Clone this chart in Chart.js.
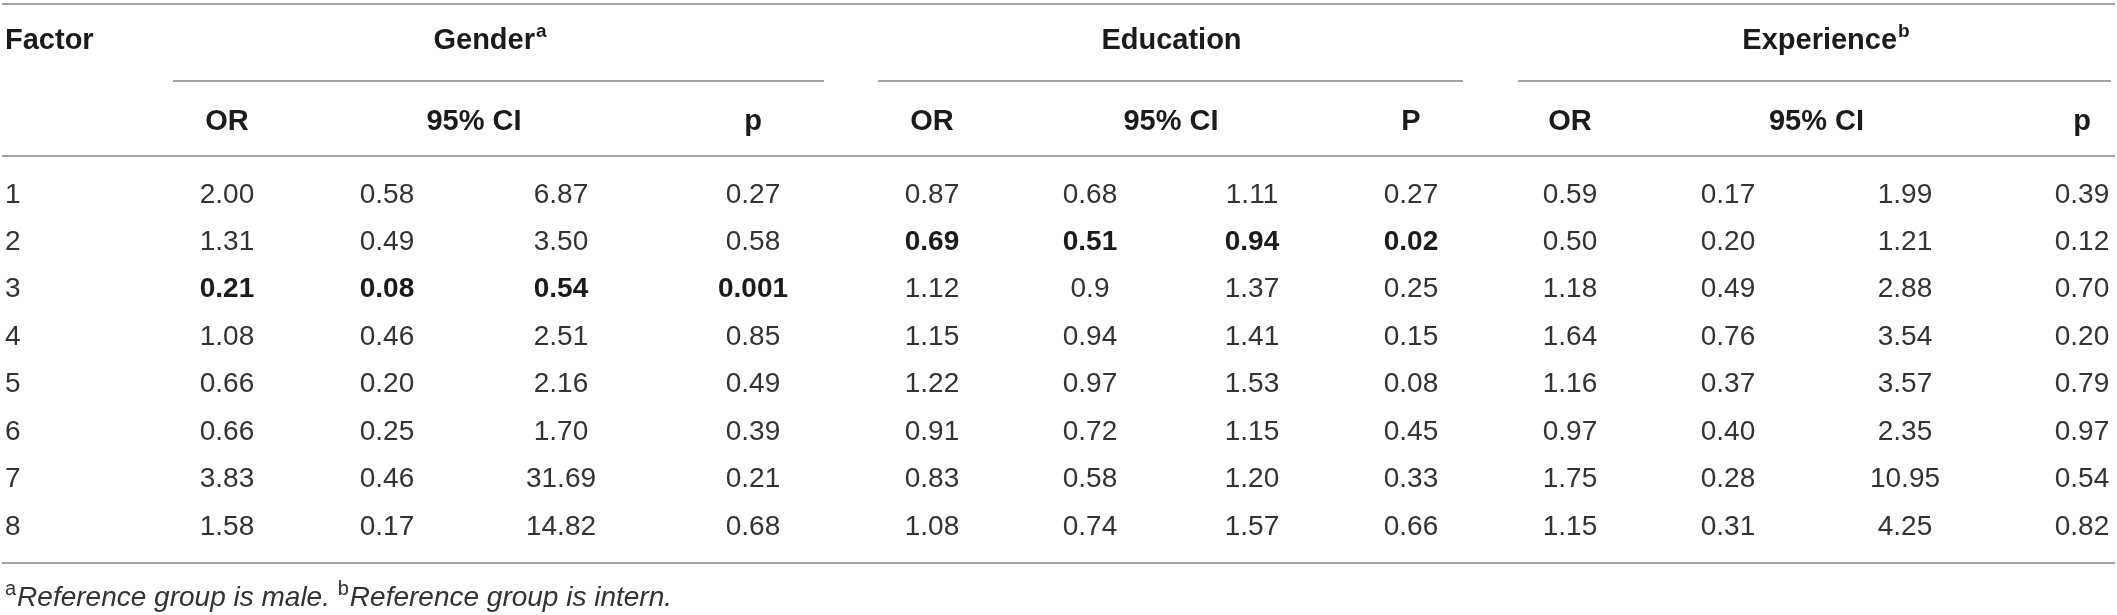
<!DOCTYPE html>
<html>
<head>
<meta charset="utf-8">
<script src="https://cdn.jsdelivr.net/npm/chart.js@4.4.1/dist/chart.umd.min.js"></script>
<style>
  html, body { margin: 0; padding: 0; background: #fff; overflow: hidden; }
  #wrap { width: 2117px; height: 615px; }
</style>
</head>
<body>
<div id="wrap"><canvas id="oddsTable" width="2117" height="615"></canvas></div>
<script>
// Table content
const factors = ["1", "2", "3", "4", "5", "6", "7", "8"];

const groupNames = ["Gender", "Education", "Experience"];
const groupMarks = ["a", "", "b"];
const subHeads = [["OR", "95% CI", "p"], ["OR", "95% CI", "P"], ["OR", "95% CI", "p"]];

const genderOR   = ["2.00", "1.31", "0.21", "1.08", "0.66", "0.66", "3.83", "1.58"];
const genderLow  = ["0.58", "0.49", "0.08", "0.46", "0.20", "0.25", "0.46", "0.17"];
const genderHigh = ["6.87", "3.50", "0.54", "2.51", "2.16", "1.70", "31.69", "14.82"];
const genderP    = ["0.27", "0.58", "0.001", "0.85", "0.49", "0.39", "0.21", "0.68"];

const educationOR   = ["0.87", "0.69", "1.12", "1.15", "1.22", "0.91", "0.83", "1.08"];
const educationLow  = ["0.68", "0.51", "0.9", "0.94", "0.97", "0.72", "0.58", "0.74"];
const educationHigh = ["1.11", "0.94", "1.37", "1.41", "1.53", "1.15", "1.20", "1.57"];
const educationP    = ["0.27", "0.02", "0.25", "0.15", "0.08", "0.45", "0.33", "0.66"];

const experienceOR   = ["0.59", "0.50", "1.18", "1.64", "1.16", "0.97", "1.75", "1.15"];
const experienceLow  = ["0.17", "0.20", "0.49", "0.76", "0.37", "0.40", "0.28", "0.31"];
const experienceHigh = ["1.99", "1.21", "2.88", "3.54", "3.57", "2.35", "10.95", "4.25"];
const experienceP    = ["0.39", "0.12", "0.70", "0.20", "0.79", "0.97", "0.54", "0.82"];

// factor row that is significant (printed bold) per group, 0 = none
const boldRow = [3, 2, 0];

const footnotes = [["a", "Reference group is male. "], ["b", "Reference group is intern."]];

// layout (x in pixels of the table, y in row units; data rows are 1..8)
const factorX = 5;
const colX = [[227, 387, 561, 753], [932, 1090, 1252, 1411], [1570, 1728, 1905, 2082]];
const groupLines = [[173, 824], [878, 1463], [1518, 2111]];
const tableLeft = 2, tableRight = 2115;
const yTopRule = -3.02, yGroup = -2.24, yGroupLine = -1.40, ySub = -0.54, yHeadRule = 0.19;
const yBottomRule = 8.77, yNote = 9.50;

const TEXT = "#333333";
const HEAD = "#1b1b1b";
const RULE = "#a2a2a2";
const BODY_FONT = "28px 'Liberation Sans', Arial, sans-serif";
const BOLD_FONT = "bold 29px 'Liberation Sans', Arial, sans-serif";
const CELL_BOLD = "bold 28px 'Liberation Sans', Arial, sans-serif";
const NOTE_FONT = "italic 28px 'Liberation Sans', Arial, sans-serif";

const columns = [
  [genderOR, genderLow, genderHigh, genderP],
  [educationOR, educationLow, educationHigh, educationP],
  [experienceOR, experienceLow, experienceHigh, experienceP]
];

// one invisible scatter series per table column; labels drawn by plugin
const datasets = [{
  label: "Factor",
  data: factors.map((f, i) => ({ x: factorX, y: i + 1 })),
  texts: factors,
  bold: factors.map(() => false),
  align: "left",
  pointRadius: 0
}];
columns.forEach((grp, g) => {
  grp.forEach((vals, c) => {
    datasets.push({
      label: groupNames[g] + " " + c,
      data: vals.map((v, i) => ({ x: colX[g][c], y: i + 1 })),
      texts: vals,
      bold: vals.map((v, i) => boldRow[g] === i + 1),
      align: "center",
      pointRadius: 0
    });
  });
});

function hLine(ctx, x1, x2, y) {
  ctx.beginPath();
  ctx.moveTo(x1, y);
  ctx.lineTo(x2, y);
  ctx.stroke();
}

// text with a small raised mark after it, centred on cx
function withMark(ctx, text, mark, cx, cy, font) {
  const markFont = "bold 19px 'Liberation Sans', Arial, sans-serif";
  ctx.font = font;
  const w = ctx.measureText(text).width;
  ctx.font = markFont;
  const mw = mark ? ctx.measureText(mark).width + 1 : 0;
  const start = cx - (w + mw) / 2;
  ctx.textAlign = "left";
  ctx.font = font;
  ctx.fillText(text, start, cy);
  if (mark) {
    ctx.font = markFont;
    ctx.fillText(mark, start + w + 1, cy - 9);
  }
}

const tablePlugin = {
  id: "tableText",
  afterDatasetsDraw(chart) {
    const { ctx, scales: { x, y } } = chart;
    ctx.save();
    ctx.textBaseline = "middle";

    // rules
    ctx.strokeStyle = RULE;
    ctx.lineWidth = 2;
    [yTopRule, yHeadRule, yBottomRule].forEach(r => {
      hLine(ctx, x.getPixelForValue(tableLeft), x.getPixelForValue(tableRight), Math.round(y.getPixelForValue(r)));
    });
    groupLines.forEach(([a, b]) => {
      hLine(ctx, x.getPixelForValue(a), x.getPixelForValue(b), Math.round(y.getPixelForValue(yGroupLine)));
    });

    // headers
    ctx.fillStyle = HEAD;
    ctx.font = BOLD_FONT;
    ctx.textAlign = "left";
    ctx.fillText("Factor", x.getPixelForValue(factorX), y.getPixelForValue(yGroup));
    groupNames.forEach((name, g) => {
      const cx = x.getPixelForValue((colX[g][0] + colX[g][3]) / 2);
      withMark(ctx, name, groupMarks[g], cx, y.getPixelForValue(yGroup), BOLD_FONT);
      ctx.font = BOLD_FONT;
      ctx.textAlign = "center";
      const sy = y.getPixelForValue(ySub);
      ctx.fillText(subHeads[g][0], x.getPixelForValue(colX[g][0]), sy);
      ctx.fillText(subHeads[g][1], x.getPixelForValue((colX[g][1] + colX[g][2]) / 2), sy);
      ctx.fillText(subHeads[g][2], x.getPixelForValue(colX[g][3]), sy);
    });

    // body cells
    chart.data.datasets.forEach((ds, di) => {
      const meta = chart.getDatasetMeta(di);
      ctx.textAlign = ds.align;
      meta.data.forEach((pt, i) => {
        ctx.font = ds.bold[i] ? CELL_BOLD : BODY_FONT;
        ctx.fillStyle = ds.bold[i] ? HEAD : TEXT;
        ctx.fillText(ds.texts[i], pt.x, pt.y);
      });
    });

    // footnote
    let fx = x.getPixelForValue(factorX);
    const fy = y.getPixelForValue(yNote);
    ctx.textAlign = "left";
    ctx.fillStyle = TEXT;
    footnotes.forEach(([mark, txt]) => {
      ctx.font = "20px 'Liberation Sans', Arial, sans-serif";
      ctx.fillText(mark, fx, fy - 8);
      fx += ctx.measureText(mark).width + 1;
      ctx.font = NOTE_FONT;
      ctx.fillText(txt, fx, fy);
      fx += ctx.measureText(txt).width;
    });
    ctx.restore();
  }
};

new Chart(document.getElementById("oddsTable").getContext("2d"), {
  type: "scatter",
  data: { datasets: datasets },
  options: {
    responsive: false,
    devicePixelRatio: 1,
    animation: false,
    events: [],
    layout: { padding: 0 },
    plugins: { legend: { display: false }, tooltip: { enabled: false } },
    scales: {
      x: { type: "linear", min: 0, max: 2117, display: false },
      y: { type: "linear", min: -3.11, max: 9.86, reverse: true, display: false }
    }
  },
  plugins: [tablePlugin]
});
</script>
</body>
</html>
